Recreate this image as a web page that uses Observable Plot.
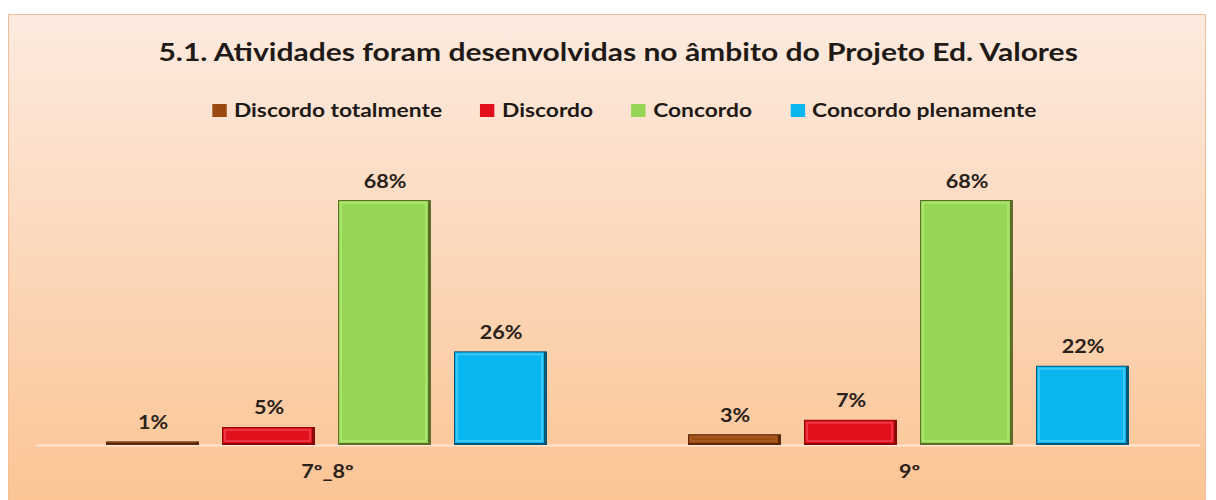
<!DOCTYPE html>
<html>
<head>
<meta charset="utf-8">
<script src="https://cdn.jsdelivr.net/npm/d3@7"></script>
<script src="https://cdn.jsdelivr.net/npm/@observablehq/plot@0.6"></script>
<style>
  html, body { margin: 0; padding: 0; background: #ffffff; width: 1216px; height: 500px; overflow: hidden; }
  #panel {
    position: absolute; left: 8px; top: 14px; width: 1198px; height: 500px;
    border: 1px solid #f2bf9a; box-sizing: border-box;
    background: linear-gradient(to bottom, #fdebe0 0%, #fcd9bd 45%, #fbc493 100%);
  }
  .scaled { position: absolute; left: 0; width: 1216px; display: flex; justify-content: center; }
  .scaled > div { transform: scaleX(1.2); transform-origin: center; white-space: nowrap; }
  #title { top: 36px; font-family: Lato, "Open Sans", sans-serif; font-weight: bold; font-size: 25px; line-height: 1.2; color: #1f1a16; }
  #title > div { margin-left: 21px; }
  #legend { top: 99px; font-family: Lato, "Open Sans", sans-serif; font-weight: bold; font-size: 19px; line-height: 1.2; color: #1f1a16; }
  #legend > div { margin-left: 32px; display: flex; align-items: center; }
  #legend span.item { display: inline-flex; align-items: center; margin-right: 32px; }
  #legend span.item:last-child { margin-right: 0; }
  #legend span.sw { display: inline-block; width: 12px; height: 13px; margin-right: 6px; margin-top: 1px; }
  #chart { position: absolute; left: 0; top: 130px; }
</style>
</head>
<body>
<div id="panel"></div>
<div id="title" class="scaled"><div>5.1. Atividades foram desenvolvidas no âmbito do Projeto Ed. Valores</div></div>
<div id="legend" class="scaled"><div id="legendInner"></div></div>
<div id="chart"></div>
<script>
const groups = ["7º_8º", "9º"];
const series = ["Discordo totalmente", "Discordo", "Concordo", "Concordo plenamente"];
const values7_8 = [0.01, 0.05, 0.68, 0.26];
const values9 = [0.03, 0.07, 0.68, 0.22];
const colors = ["#9a4a10", "#e2101c", "#97d655", "#08b6f0"];
const edgeColors = ["#5c2a06", "#8a0a0a", "#5e6d2a", "#0b5676"];
const lightColors = ["#b8662a", "#f2505a", "#b6ec7c", "#5fd4fa"];

const data = [];
groups.forEach((g, gi) => {
  const vals = gi === 0 ? values7_8 : values9;
  series.forEach((s, si) => data.push({group: g, series: s, value: vals[si]}));
});

// legend
const legend = document.getElementById("legendInner");
series.forEach((s, i) => {
  const item = document.createElement("span");
  item.className = "item";
  const sw = document.createElement("span");
  sw.className = "sw";
  sw.style.background = colors[i];
  item.appendChild(sw);
  item.appendChild(document.createTextNode(s));
  legend.appendChild(item);
});

const plot = Plot.plot({
  width: 1216,
  height: 370,
  marginLeft: 35,
  marginRight: 16,
  marginTop: 70,
  marginBottom: 55,
  style: {background: "transparent", fontFamily: "Lato, 'Open Sans', sans-serif", fontWeight: "bold", fontSize: "18px", color: "#2a211a"},
  fx: {domain: groups, padding: 0, label: null},
  x: {domain: series, paddingInner: 0.197, paddingOuter: 0.59, axis: null},
  y: {domain: [0, 0.68], axis: null},
  color: {domain: series, range: colors},
  marks: [
    Plot.ruleY([0], {stroke: "#fde6d2", strokeWidth: 2}),
    Plot.barY(data, {fx: "group", x: "series", y: "value", fill: (d) => edgeColors[series.indexOf(d.series)]}),
    Plot.barY(data, {fx: "group", x: "series", y: "value", fill: "series", insetLeft: 1, insetRight: 3, insetTop: 1, insetBottom: 2}),
    Plot.barY(data.filter(d => d.value >= 0.03), {fx: "group", x: "series", y: "value", fill: (d) => colors[series.indexOf(d.series)], stroke: (d) => lightColors[series.indexOf(d.series)], strokeWidth: 2, strokeOpacity: 0.6, insetLeft: 3, insetRight: 5, insetTop: 3, insetBottom: 4}),
    Plot.text(data, {fx: "group", x: "series", y: "value", text: (d) => Math.round(d.value * 100) + "%", lineAnchor: "bottom", dy: -13, fill: "#2a211a"}),
    Plot.axisFx({anchor: "bottom", tickSize: 0, tickPadding: 20, label: null})
  ]
});
// widen glyphs horizontally like the reference's stretched lettering
d3.select(plot).selectAll("text").each(function () {
  const t = this.getAttribute("transform");
  if (t) {
    this.setAttribute("transform", t + " scale(1.2,1)");
  } else {
    const x = +this.getAttribute("x") || 0, y = +this.getAttribute("y") || 0;
    this.setAttribute("transform", `translate(${x},${y}) scale(1.2,1) translate(${-x},${-y})`);
  }
});
document.getElementById("chart").appendChild(plot);
</script>
</body>
</html>
